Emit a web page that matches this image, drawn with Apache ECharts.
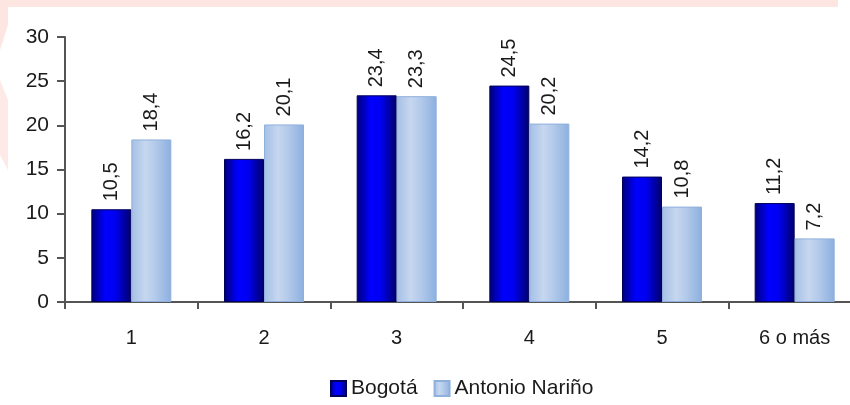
<!DOCTYPE html>
<html>
<head>
<meta charset="utf-8">
<script src="https://cdn.jsdelivr.net/npm/echarts@6/dist/echarts.min.js"></script>
<style>
  html, body { margin: 0; padding: 0; background: #fff; }
  #chart { width: 850px; height: 405px; }
</style>
</head>
<body>
<div id="chart"></div>
<script>
const categories = ['1', '2', '3', '4', '5', '6 o más']
const bogotaData = [10.5, 16.2, 23.4, 24.5, 14.2, 11.2]
const narinoData = [18.4, 20.1, 23.3, 20.2, 10.8, 7.2]
const seriesNames = ['Bogotá', 'Antonio Nariño']

const chart = echarts.init(document.getElementById('chart'))
const font = 'Liberation Sans, Arial, sans-serif'

// etiqueta vertical sobre la barra, con coma decimal
const barLabel = {
  show: true,
  position: 'top',
  rotate: 90,
  align: 'left',
  verticalAlign: 'middle',
  distance: 8,
  color: '#1a1a1a',
  fontFamily: font,
  fontSize: 20,
  formatter: p => String(p.value.toFixed(1)).replace('.', ',')
}

const darkGrad = new echarts.graphic.LinearGradient(0, 0, 1, 0, [
  { offset: 0, color: '#000078' },
  { offset: 0.35, color: '#0000ff' },
  { offset: 0.6, color: '#0000f0' },
  { offset: 1, color: '#00006a' }
])
const lightGrad = new echarts.graphic.LinearGradient(0, 0, 1, 0, [
  { offset: 0, color: '#a4bfe6' },
  { offset: 0.35, color: '#c6d7ef' },
  { offset: 0.6, color: '#b3caea' },
  { offset: 1, color: '#8cafdf' }
])

const option = {
  backgroundColor: '#fff',
  animation: false,
  graphic: [
    { type: 'rect', shape: { x: 0, y: 0, width: 838, height: 7 }, style: { fill: '#fde6e2' }, z: -10 },
    { type: 'polygon', shape: { points: [[0, 0], [8, 0], [8, 25], [0, 50]] }, style: { fill: '#fde6e2' }, z: -10 },
    { type: 'polygon', shape: { points: [[0, 80], [8, 100], [8, 170], [0, 155]] }, style: { fill: '#fdeae7' }, z: -10 }
  ],
  legend: {
    data: seriesNames,
    left: 325,
    bottom: 1,
    icon: 'rect',
    itemWidth: 15,
    itemHeight: 15,
    itemGap: 16,
    textStyle: { color: '#1a1a1a', fontFamily: font, fontSize: 21, padding: [0, 0, 0, 0] }
  },
  grid: {
    left: 65,
    width: 796,
    top: 37,
    bottom: 103,
    outerBoundsMode: 'none'
  },
  xAxis: {
    type: 'category',
    data: categories,
    axisLine: { lineStyle: { color: '#555', width: 2 } },
    axisTick: { show: true, length: 7, lineStyle: { color: '#555', width: 2 } },
    axisLabel: { color: '#1a1a1a', fontFamily: font, fontSize: 20, margin: 26 }
  },
  yAxis: {
    type: 'value',
    min: 0,
    max: 30,
    interval: 5,
    splitLine: { show: false },
    axisLine: { show: true, lineStyle: { color: '#555', width: 2 } },
    axisTick: { show: true, length: 8, lineStyle: { color: '#555', width: 2 } },
    axisLabel: { color: '#1a1a1a', fontFamily: font, fontSize: 21, margin: 16 }
  },
  series: [
    {
      name: seriesNames[0],
      type: 'bar',
      data: bogotaData,
      barWidth: 40,
      barGap: '0%',
      itemStyle: { color: darkGrad, borderColor: '#00005a', borderWidth: 1 },
      label: barLabel
    },
    {
      name: seriesNames[1],
      type: 'bar',
      data: narinoData,
      barWidth: 40,
      itemStyle: { color: lightGrad, borderColor: '#8fb0dc', borderWidth: 1 },
      label: barLabel
    }
  ]
}
chart.setOption(option)
</script>
</body>
</html>
